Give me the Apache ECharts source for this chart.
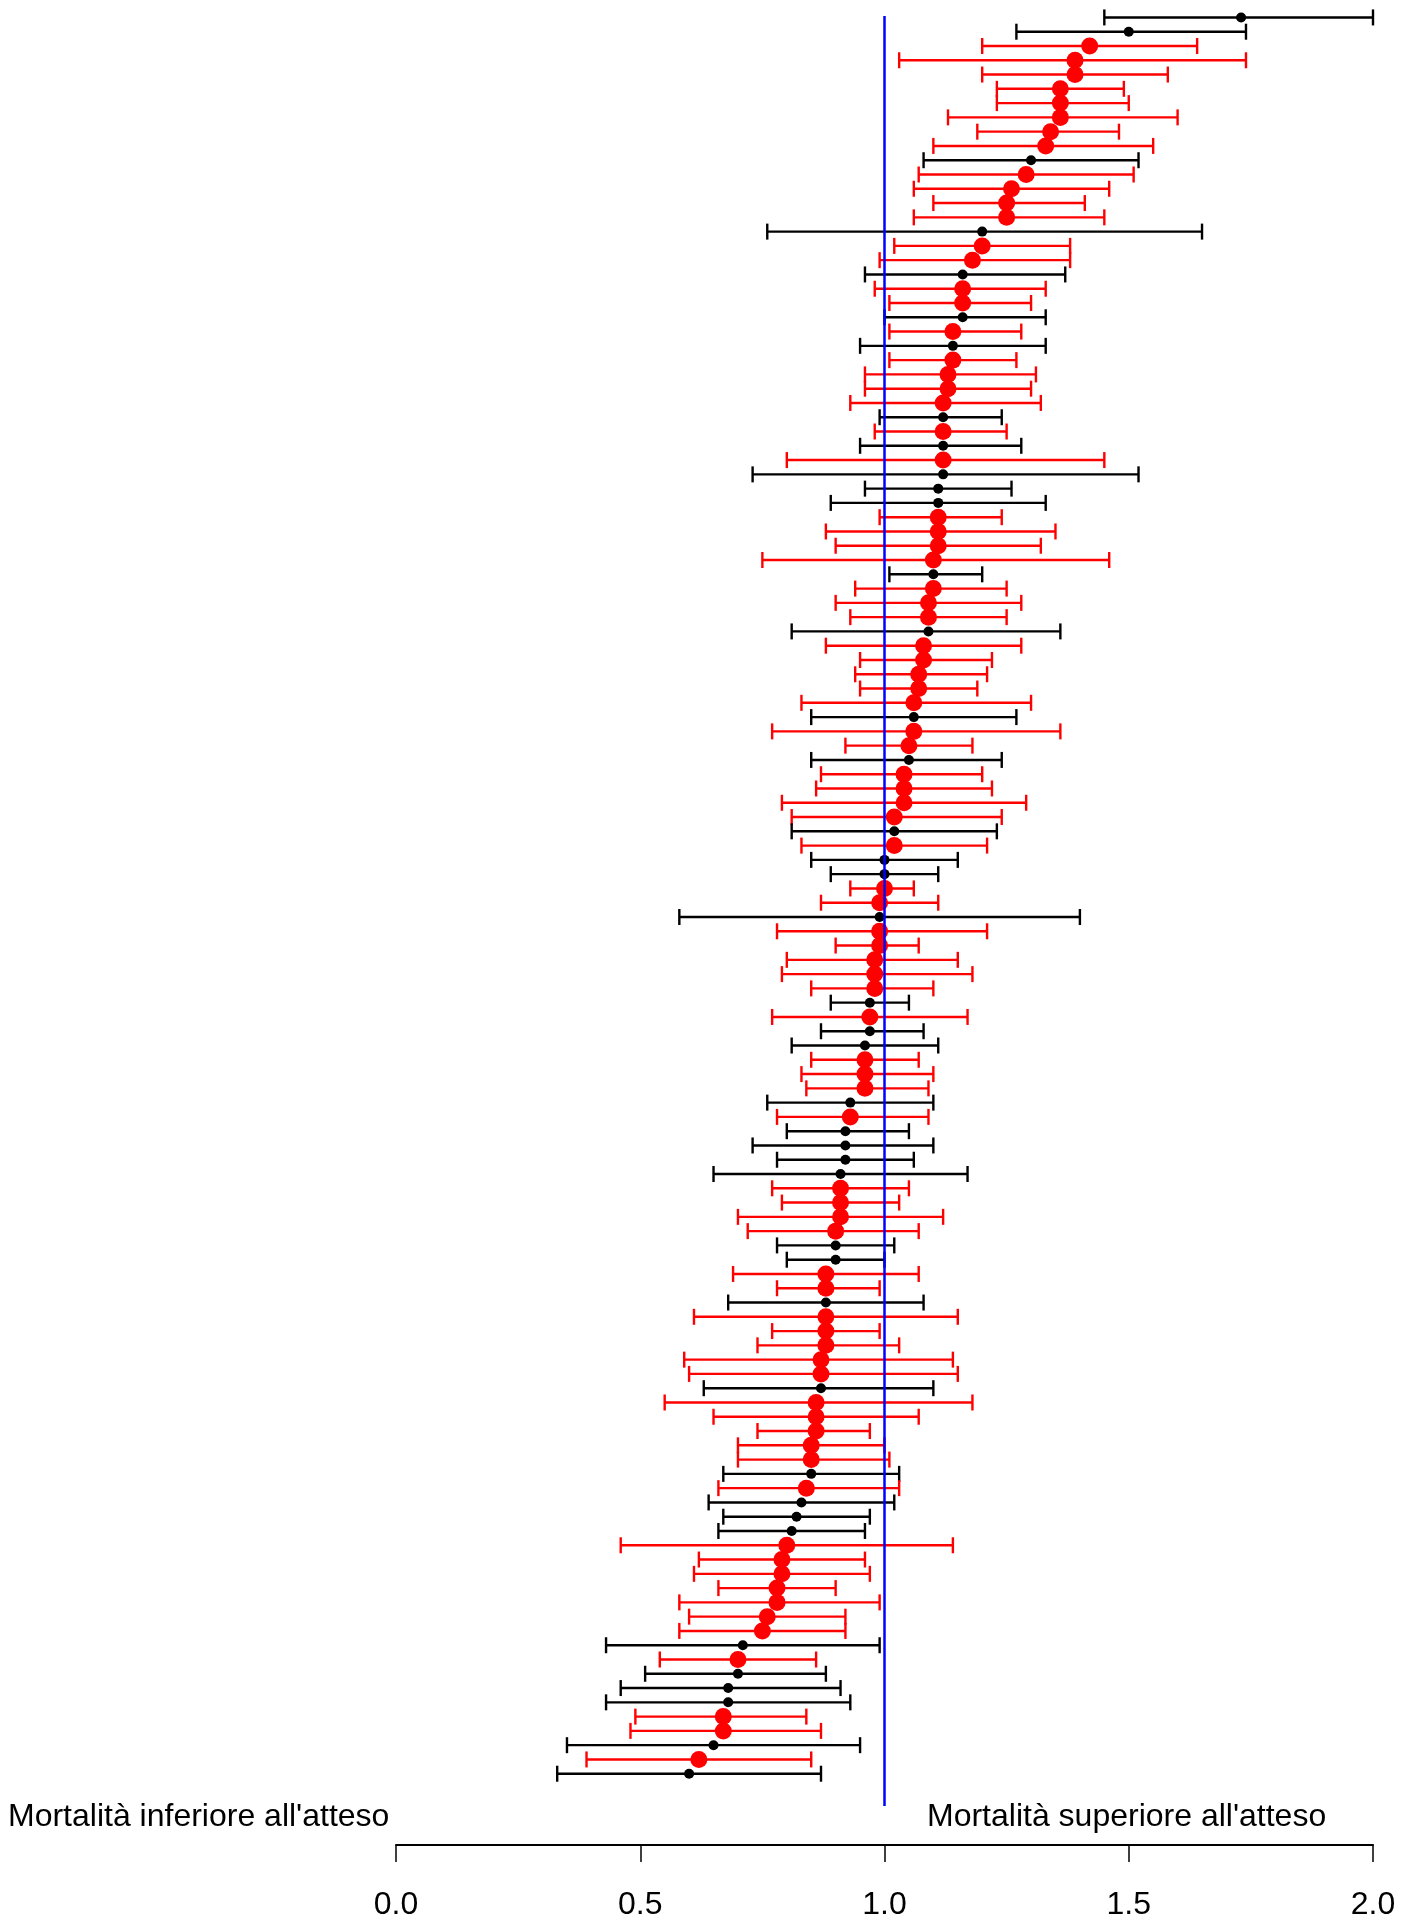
<!DOCTYPE html>
<html>
<head>
<meta charset="utf-8">
<script src="https://cdn.jsdelivr.net/npm/echarts@6/dist/echarts.min.js"></script>
<style>
html,body{margin:0;padding:0;background:#fff;}
#chart{width:1415px;height:1921px;}
</style>
</head>
<body>
<div id="chart"></div>
<script>
// Row groups: 'r' = red (large dot), 'k' = black (small dot)
const group = ['k','k','r','r','r','r','r','r','r','r','k','r','r','r','r','k','r','r','k','r','r','k','r','k','r','r','r','r','k','r','k','r','k','k','k','r','r','r','r','k','r','r','r','k','r','r','r','r','r','k','r','r','k','r','r','r','r','k','r','k','k','r','r','k','r','r','r','r','r','k','r','k','k','r','r','r','k','r','k','k','k','k','r','r','r','r','k','k','r','r','k','r','r','r','r','r','k','r','r','r','r','r','k','r','k','k','k','r','r','r','r','r','r','r','k','r','k','k','k','r','r','k','r','k'];
const estimate = [1.73,1.50,1.42,1.39,1.39,1.36,1.36,1.36,1.34,1.33,1.30,1.29,1.26,1.25,1.25,1.20,1.20,1.18,1.16,1.16,1.16,1.16,1.14,1.14,1.14,1.13,1.13,1.12,1.12,1.12,1.12,1.12,1.12,1.11,1.11,1.11,1.11,1.11,1.10,1.10,1.10,1.09,1.09,1.09,1.08,1.08,1.07,1.07,1.06,1.06,1.06,1.05,1.05,1.04,1.04,1.04,1.02,1.02,1.02,1.00,1.00,1.00,0.99,0.99,0.99,0.99,0.98,0.98,0.98,0.97,0.97,0.97,0.96,0.96,0.96,0.96,0.93,0.93,0.92,0.92,0.92,0.91,0.91,0.91,0.91,0.90,0.90,0.90,0.88,0.88,0.88,0.88,0.88,0.88,0.87,0.87,0.87,0.86,0.86,0.86,0.85,0.85,0.85,0.84,0.83,0.82,0.81,0.80,0.79,0.79,0.78,0.78,0.76,0.75,0.71,0.70,0.70,0.68,0.68,0.67,0.67,0.65,0.62,0.60];
const lower = [1.45,1.27,1.20,1.03,1.20,1.23,1.23,1.13,1.19,1.10,1.08,1.07,1.06,1.10,1.06,0.76,1.02,0.99,0.96,0.98,1.01,1.00,1.01,0.95,1.01,0.96,0.96,0.93,0.99,0.98,0.95,0.80,0.73,0.96,0.89,0.99,0.88,0.90,0.75,1.01,0.94,0.90,0.93,0.81,0.88,0.95,0.94,0.95,0.83,0.85,0.77,0.92,0.85,0.87,0.86,0.79,0.81,0.81,0.83,0.85,0.89,0.93,0.87,0.58,0.78,0.90,0.80,0.79,0.85,0.89,0.77,0.87,0.81,0.85,0.83,0.84,0.76,0.78,0.80,0.73,0.78,0.65,0.77,0.79,0.70,0.72,0.78,0.80,0.69,0.78,0.68,0.61,0.77,0.74,0.59,0.60,0.63,0.55,0.65,0.74,0.70,0.70,0.67,0.66,0.64,0.67,0.66,0.46,0.62,0.61,0.66,0.58,0.60,0.58,0.43,0.54,0.51,0.46,0.43,0.49,0.48,0.35,0.39,0.33];
const upper = [2.00,1.74,1.64,1.74,1.58,1.49,1.50,1.60,1.48,1.55,1.52,1.51,1.46,1.41,1.45,1.65,1.38,1.38,1.37,1.33,1.30,1.33,1.28,1.33,1.27,1.31,1.30,1.32,1.24,1.25,1.28,1.45,1.52,1.26,1.33,1.24,1.35,1.32,1.46,1.20,1.25,1.28,1.25,1.36,1.28,1.22,1.21,1.19,1.30,1.27,1.36,1.18,1.24,1.20,1.22,1.29,1.24,1.23,1.21,1.15,1.11,1.06,1.11,1.40,1.21,1.07,1.15,1.18,1.10,1.05,1.17,1.08,1.11,1.07,1.10,1.09,1.10,1.09,1.05,1.10,1.06,1.17,1.05,1.03,1.12,1.07,1.02,1.00,1.07,0.99,1.08,1.15,0.99,1.03,1.14,1.15,1.10,1.18,1.07,0.97,1.00,1.01,1.03,1.03,1.02,0.97,0.96,1.14,0.96,0.97,0.90,0.99,0.92,0.92,0.99,0.86,0.88,0.91,0.93,0.84,0.87,0.95,0.85,0.87];
const xTicks = [0.0, 0.5, 1.0, 1.5, 2.0];
const refValue = 1.0;
const leftLabel = "Mortalità inferiore all'atteso";
const rightLabel = "Mortalità superiore all'atteso";

const COL = {r:'#ff0000', k:'#000000'};
const FONT = 'Liberation Sans, Arial, sans-serif';

const barData = estimate.map((e,i)=>[lower[i], upper[i], i+1, group[i]]);
const redPts = [], blackPts = [];
estimate.forEach((e,i)=>{ (group[i]==='r'?redPts:blackPts).push([e, i+1]); });

const chart = echarts.init(document.getElementById('chart'), null, {renderer:'canvas'});
chart.setOption({
  animation:false,
  backgroundColor:'#fff',
  grid:{left:396, right:42, top:16, bottom:115, containLabel:false},
  xAxis:{
    type:'value', min:0, max:2, interval:0.5, offset:39,
    axisLine:{show:true, lineStyle:{color:'#000', width:2}},
    axisTick:{show:true, length:17, lineStyle:{color:'#000', width:1.5}},
    axisLabel:{show:true, color:'#000', fontSize:32, fontFamily:FONT, margin:44,
      formatter:(v)=>{ const t = xTicks.find(x=>Math.abs(x-v)<1e-9); return t===undefined?'':t.toFixed(1); }},
    splitLine:{show:false}
  },
  yAxis:{
    type:'value', inverse:true, min:0.9, max:126.26,
    show:false, splitLine:{show:false}
  },
  series:[
    {
      type:'custom',
      data:barData,
      encode:{x:[0,1], y:2},
      renderItem:(params, api)=>{
        const lo = api.coord([api.value(0), api.value(2)]);
        const hi = api.coord([api.value(1), api.value(2)]);
        const c = COL[barData[params.dataIndex][3]];
        const h = 8;
        const st = {stroke:c, lineWidth:2.4};
        return {type:'group', children:[
          {type:'line', shape:{x1:lo[0], y1:lo[1], x2:hi[0], y2:hi[1]}, style:st},
          {type:'line', shape:{x1:lo[0], y1:lo[1]-h, x2:lo[0], y2:lo[1]+h}, style:st},
          {type:'line', shape:{x1:hi[0], y1:hi[1]-h, x2:hi[0], y2:hi[1]+h}, style:st}
        ]};
      },
      markLine:{
        silent:true, symbol:['none','none'], label:{show:false},
        lineStyle:{color:'#0000ff', width:2.5, type:'solid'},
        data:[{xAxis:refValue}]
      },
      z:2
    },
    {type:'scatter', data:blackPts, symbol:'circle', symbolSize:10, itemStyle:{color:'#000', opacity:1}, z:3},
    {type:'scatter', data:redPts, symbol:'circle', symbolSize:17, itemStyle:{color:'#ff0000', opacity:1}, z:3}
  ],
  graphic:[
    {type:'text', left:8, top:1801, style:{text:leftLabel, fontSize:32, fontFamily:FONT, fill:'#000'}},
    {type:'text', left:927, top:1801, style:{text:rightLabel, fontSize:32, fontFamily:FONT, fill:'#000'}}
  ]
});
</script>
</body>
</html>
